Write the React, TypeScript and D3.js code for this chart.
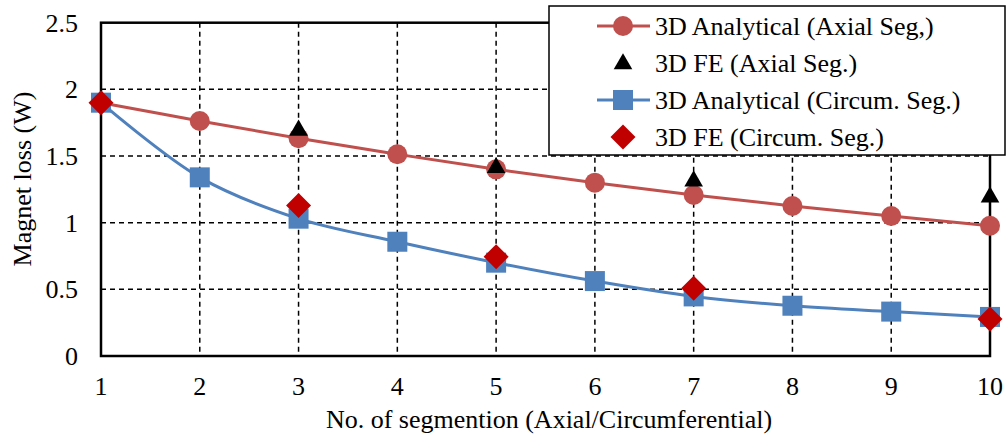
import React from "react";
import * as d3 from "d3";

const segments = [1, 2, 3, 4, 5, 6, 7, 8, 9, 10];
const axialAnalytical = [1.9, 1.763, 1.633, 1.513, 1.4, 1.3, 1.208, 1.125, 1.05, 0.977];
const axialFEX = [1, 3, 5, 7, 10];
const axialFE = [1.9, 1.7, 1.42, 1.32, 1.2];
const circumAnalytical = [1.9, 1.34, 1.03, 0.857, 0.7, 0.562, 0.447, 0.377, 0.333, 0.293];
const circumFEX = [1, 3, 5, 7, 10];
const circumFE = [1.9, 1.128, 0.745, 0.508, 0.278];
const yTicks = [0, 0.5, 1, 1.5, 2, 2.5];
const legendLabels = [
  "3D Analytical (Axial Seg,)",
  "3D FE (Axial Seg.)",
  "3D Analytical (Circum. Seg.)",
  "3D FE (Circum. Seg.)",
];

const RED = "#C0504D";
const BLUE = "#4F81BD";
const DIAMOND = "#C00000";
const FONT = "Liberation Serif, Times New Roman, serif";

const W = 1007;
const H = 441;
const left = 101;
const right = 990;
const top = 22.7;
const bottom = 356;

function Label(props: { x: number; y: number; anchor?: string; dy?: string; transform?: string; children: React.ReactNode }) {
  return (
    <text
      x={props.x}
      y={props.y}
      dy={props.dy}
      transform={props.transform}
      textAnchor={props.anchor || "start"}
      fontFamily={FONT}
      fontSize="26px"
      style={{ fontFamily: FONT, fontSize: "26px" }}
    >
      {props.children}
    </text>
  );
}

export default function App() {
  const x = d3.scaleLinear().domain([1, 10]).range([left, right]);
  const y = d3.scaleLinear().domain([0, 2.5]).range([bottom, top]);
  const line = d3
    .line<[number, number]>()
    .x((d) => x(d[0]))
    .y((d) => y(d[1]))
    .curve(d3.curveCatmullRom.alpha(0.5));

  const redPts = segments.map((s, i) => [s, axialAnalytical[i]] as [number, number]);
  const bluePts = segments.map((s, i) => [s, circumAnalytical[i]] as [number, number]);

  const tri = d3.symbol(d3.symbolTriangle, 150)()!;
  const circle = (cx: number, cy: number, k: string) => (
    <circle key={k} cx={cx} cy={cy} r={10} fill={RED} />
  );
  const square = (cx: number, cy: number, k: string) => (
    <rect key={k} x={cx - 10} y={cy - 10} width={20} height={20} fill={BLUE} />
  );
  const diamond = (cx: number, cy: number, k: string) => (
    <path
      key={k}
      d={`M${cx},${cy - 12.5}L${cx + 12.5},${cy}L${cx},${cy + 12.5}L${cx - 12.5},${cy}Z`}
      fill={DIAMOND}
    />
  );
  const triangle = (cx: number, cy: number, k: string) => (
    <path key={k} d={tri} transform={`translate(${cx},${cy + 1})`} fill="#000" />
  );

  const legX = 549;
  const legY = 6;
  const rowY = (i: number) => 26 + i * 37;

  return (
    <svg width={W} height={H} style={{ position: "absolute", left: 0, top: 0 }}>
      <rect width={W} height={H} fill="#fff" />
      {/* grid */}
      {segments.slice(1, -1).map((s) => (
        <line key={"gx" + s} x1={x(s)} x2={x(s)} y1={top} y2={bottom} stroke="#000" strokeWidth={1.5} strokeDasharray="5,4" />
      ))}
      {yTicks.slice(1, -1).map((t) => (
        <line key={"gy" + t} x1={left} x2={right} y1={y(t)} y2={y(t)} stroke="#000" strokeWidth={1.5} strokeDasharray="5,4" />
      ))}
      {/* plot border */}
      <rect x={left} y={top} width={right - left} height={bottom - top} fill="none" stroke="#000" strokeWidth={2.5} />
      {/* tick labels */}
      {yTicks.map((t) => (
        <Label key={"yt" + t} x={78} y={y(t)} dy="0.35em" anchor="end">
          {t}
        </Label>
      ))}
      {segments.map((s) => (
        <Label key={"xt" + s} x={x(s)} y={395} anchor="middle">
          {s}
        </Label>
      ))}
      <Label x={549} y={428} anchor="middle">
        No. of segmention (Axial/Circumferential)
      </Label>
      <Label x={0} y={0} anchor="middle" transform={`translate(31,179) rotate(-90)`}>
        Magnet loss (W)
      </Label>
      {/* series */}
      <path d={line(redPts)!} fill="none" stroke={RED} strokeWidth={3} />
      {redPts.map((p, i) => circle(x(p[0]), y(p[1]), "c" + i))}
      {axialFEX.map((s, i) => triangle(x(s), y(axialFE[i]), "t" + i))}
      <path d={line(bluePts)!} fill="none" stroke={BLUE} strokeWidth={3} />
      {bluePts.map((p, i) => square(x(p[0]), y(p[1]), "s" + i))}
      {circumFEX.map((s, i) => diamond(x(s), y(circumFE[i]), "d" + i))}
      {/* legend */}
      <rect x={legX} y={legY} width={456} height={149} fill="#fff" stroke="#000" strokeWidth={1.5} />
      <line x1={597} x2={650} y1={rowY(0)} y2={rowY(0)} stroke={RED} strokeWidth={3} />
      {circle(623, rowY(0), "lc")}
      {triangle(623, rowY(1), "lt")}
      <line x1={597} x2={650} y1={rowY(2)} y2={rowY(2)} stroke={BLUE} strokeWidth={3} />
      {square(623, rowY(2), "ls")}
      {diamond(623, rowY(3), "ld")}
      {legendLabels.map((l, i) => (
        <Label key={"l" + i} x={655} y={rowY(i)} dy="0.35em">
          {l}
        </Label>
      ))}
    </svg>
  );
}
